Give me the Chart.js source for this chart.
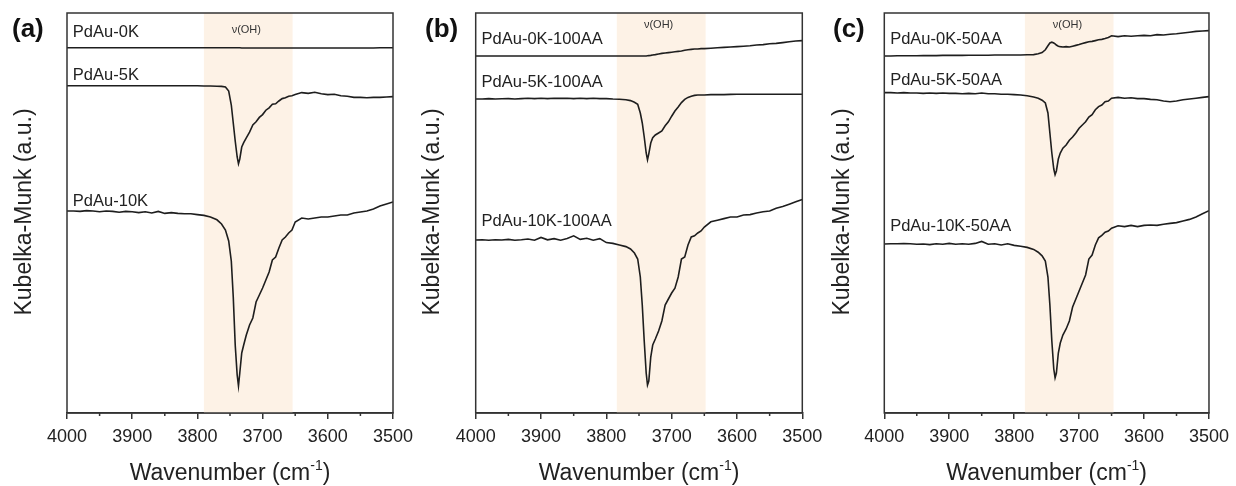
<!DOCTYPE html>
<html>
<head>
<meta charset="utf-8">
<script src="https://cdn.jsdelivr.net/npm/chart.js@4"></script>
<style>
  body { margin: 0; background: #fff; width: 1236px; height: 486px; position: relative; overflow: hidden; }
  canvas { position: absolute; top: 0; }
</style>
</head>
<body>
<canvas id="pa" width="430" height="486" style="left:0px"></canvas>
<canvas id="pb" width="430" height="486" style="left:405px"></canvas>
<canvas id="pc" width="421" height="486" style="left:815px"></canvas>
<script>
// wavenumber grid (cm-1), finer around the OH band
const WAVENUMBER = [
  4000,3990,3980,3970,3960,3950,3940,3930,3920,3910,3900,3890,3880,3870,3860,3850,3840,3830,3820,3810,3800,3790,3780,3770,
  3763,3757,3752,3748,3745,3742,3739,3737,3735,3732,3729,3725,3720,3715,3710,3705,3700,3695,3690,3685,3680,3675,3670,3665,3660,3655,3650,
  3640,3630,3620,3610,3600,3590,3580,3570,3560,3550,3540,3530,3520,3510,3500
];
const X_TICKS = [4000, 3900, 3800, 3700, 3600, 3500];
const MINOR_TICKS = [3950, 3850, 3750, 3650, 3550];

// (a) offset Kubelka-Munk spectra, arbitrary units
const A_0K = [
  91.3,91.3,91.3,91.3,91.3,91.3,91.3,91.3,91.3,91.3,91.3,91.3,91.3,91.3,91.3,91.3,91.3,91.3,91.3,91.3,91.3,91.3,91.3,91.3,
  91.3,91.3,91.3,91.3,91.3,91.3,91.3,91.3,91.3,91.25,91.25,91.25,91.25,91.25,91.25,91.25,91.25,91.25,91.25,91.25,91.25,91.25,91.25,91.25,91.25,91.25,91.25,
  91.25,91.25,91.25,91.25,91.25,91.25,91.25,91.25,91.25,91.25,91.25,91.25,91.3,91.3,91.3
];
const A_5K = [
  81.8,81.8,81.8,81.8,81.8,81.8,81.8,81.8,81.8,81.8,81.8,81.8,81.8,81.8,81.8,81.8,81.8,81.8,81.8,81.8,81.8,81.75,81.75,81.7,
  81.65,81.5,80.5,77,72.5,68,64,62.3,63.5,66.5,67.6,68.8,70.2,72.0,72.8,73.9,74.6,75.7,76.3,77.2,77.3,78.0,78.6,78.8,79.2,79.3,79.6,
  80.1,79.9,80.2,79.8,79.6,79.7,79.3,79.2,78.9,78.9,78.8,78.9,78.9,79.0,79.1
];
const A_10K = [
  50.5,50.5,50.4,50.6,50.5,50.3,50.5,50.4,50.2,50.4,50.3,50.1,50.3,50.0,50.4,49.9,50.1,49.9,49.8,49.8,49.6,49.4,49.0,48.3,
  47.25,45.75,43,38,29,17,9.5,6.75,10,15,17,19.5,22,23.75,27.75,29.5,31.25,33.25,35.25,38.25,39,41.25,43.25,44,45,45.75,47.75,
  48.75,48.5,48.75,49,49,49.25,49.5,49.5,50,50.25,50.5,51,51.75,52.25,52.75
];

// (b)
const B_0K = [
  89.25,89.25,89.25,89.25,89.25,89.25,89.25,89.25,89.25,89.25,89.25,89.25,89.25,89.25,89.25,89.25,89.25,89.25,89.25,89.25,89.25,89.25,89.25,89.25,
  89.25,89.25,89.25,89.25,89.25,89.25,89.25,89.3,89.35,89.4,89.5,89.6,89.75,89.9,90.0,90.1,90.2,90.3,90.4,90.5,90.7,90.8,90.9,91.0,91.0,91.1,91.1,
  91.2,91.3,91.4,91.5,91.6,91.7,91.8,92.0,92.1,92.3,92.4,92.6,92.8,93.0,93.1
];
const B_5K = [
  78.5,78.5,78.6,78.5,78.55,78.6,78.5,78.6,78.7,78.6,78.7,78.6,78.7,78.65,78.7,78.6,78.7,78.6,78.7,78.6,78.6,78.5,78.45,78.3,
  78.1,77.7,77.2,75,72.5,69,65,63.3,64.8,67.5,68.8,69.5,70,70.5,71.8,72.8,74.2,75.5,76.5,77.6,78.4,78.9,79.2,79.4,79.5,79.5,79.5,
  79.6,79.6,79.6,79.65,79.7,79.7,79.7,79.7,79.7,79.7,79.7,79.7,79.7,79.7,79.7
];
const B_10K = [
  43.25,43.3,43.2,43.3,43.25,43.4,43.2,43.3,43.5,43.2,43.9,43.3,43.6,43.2,43.6,44.3,43.4,43.7,43.2,43.6,42.6,42.4,42.0,41.6,
  41.0,40.0,38.5,34,27,18,10,7,8,14,17,18.5,20.5,23,27,28.5,30,31.2,34,38.5,39,42,44,44.3,45,45.5,46.5,
  47.8,48.2,48.6,49.0,49.0,49.5,49.6,50.0,50.3,50.5,51.2,51.6,52.2,52.8,53.4
];

// (c)
const C_0K = [
  89.25,89.25,89.3,89.3,89.3,89.3,89.35,89.35,89.35,89.4,89.4,89.4,89.4,89.45,89.45,89.45,89.45,89.5,89.5,89.5,89.5,89.5,89.55,89.6,
  89.8,90.1,90.8,91.8,92.5,92.7,92.5,92.3,92.0,91.7,91.6,91.5,91.6,91.5,91.7,91.9,92.1,92.4,92.6,92.8,92.9,93.1,93.3,93.4,93.6,93.9,94.3,
  94.1,94.3,94.2,94.3,94.4,94.3,94.6,94.5,94.7,94.8,95.0,95.2,95.4,95.5,95.6
];
const C_5K = [
  80.1,80.1,80.0,80.1,80.0,80.0,79.9,80.0,79.9,80.0,79.9,79.9,79.8,79.9,79.8,80.0,79.8,79.8,79.7,79.7,79.6,79.5,79.3,79.0,
  78.7,78.2,77.5,75,70,65,61,59.6,60.5,63.5,65,66.2,67,68.2,69,70,71.2,72,72.8,74,74.6,75.8,76.6,77,77.8,78,78.7,
  78.9,78.7,78.8,78.6,78.6,78.4,78.3,78.0,77.8,78.0,78.3,78.5,78.7,78.9,79.1
];
const C_10K = [
  42.25,42.3,42.3,42.35,42.3,42.2,42.25,42.1,42.3,42.2,42.4,42.2,42.3,42.2,42.4,42.9,42.2,42.3,42.0,42.3,41.9,41.7,41.4,40.9,
  40.2,39.3,38,34,27,18,11,8.8,10,15,17.5,19.5,21,23,26.5,28.5,30.5,32.5,34.5,38.5,39.5,42,43.8,44.4,45.2,45.5,46.2,
  46.8,46.6,46.9,46.6,46.9,47.0,46.9,47.2,47.4,47.6,48.0,48.4,49.0,49.8,50.6
];

// series names, label anchor (wavenumber, value)
const A_NAMES = ["PdAu-0K", "PdAu-5K", "PdAu-10K"];
const B_NAMES = ["PdAu-0K-100AA", "PdAu-5K-100AA", "PdAu-10K-100AA"];
const C_NAMES = ["PdAu-0K-50AA", "PdAu-5K-50AA", "PdAu-10K-50AA"];
const A_LABEL_Y = [95.25, 84.5, 52.8];
const B_LABEL_Y = [93.4, 82.6, 47.8];
const C_LABEL_Y = [93.4, 83.25, 46.75];
// shaded v(OH) band
const A_BAND = [3790, 3654];
const B_BAND = [3784, 3648];
const C_BAND = [3783.5, 3647];

const FONT = "'Liberation Sans', Arial, sans-serif";
Chart.defaults.font.family = FONT;
Chart.defaults.color = "#222";

function decor(p) {
  return {
    id: "decor",
    beforeDatasetsDraw(chart) {
      const { ctx, chartArea: a, scales: { x } } = chart;
      const l = x.getPixelForValue(p.band[0]), r = x.getPixelForValue(p.band[1]);
      ctx.save();
      ctx.fillStyle = "#fdf2e6";
      ctx.fillRect(l, a.top, r - l, a.bottom - a.top);
      ctx.restore();
    },
    afterDraw(chart) {
      const { ctx, chartArea: a, scales: { x, y } } = chart;
      ctx.save();
      // frame
      ctx.strokeStyle = "#333";
      ctx.lineWidth = 1.5;
      ctx.strokeRect(a.left, a.top, a.right - a.left, a.bottom - a.top);
      // minor ticks
      ctx.beginPath();
      MINOR_TICKS.forEach(v => {
        const px = x.getPixelForValue(v);
        ctx.moveTo(px, a.bottom);
        ctx.lineTo(px, a.bottom + 3);
      });
      ctx.stroke();

      // curve labels
      ctx.fillStyle = "#222";
      ctx.textAlign = "left";
      ctx.textBaseline = "middle";
      ctx.font = "16.5px " + FONT;
      p.names.forEach((n, i) => ctx.fillText(n, x.getPixelForValue(3991), y.getPixelForValue(p.labelY[i])));

      // band label
      ctx.font = "11px " + FONT;
      ctx.fillStyle = "#333";
      ctx.textAlign = "center";
      ctx.fillText("\u03bd(OH)", x.getPixelForValue(p.nuX), y.getPixelForValue(p.nuY));

      // panel letter
      ctx.fillStyle = "#111";
      ctx.textAlign = "left";
      ctx.font = "bold 26px " + FONT;
      ctx.fillText(p.letter, p.letterX, 30);

      // y title
      ctx.fillStyle = "#222";
      ctx.font = "23px " + FONT;
      ctx.save();
      ctx.translate(p.yTitleX, 212);
      ctx.rotate(-Math.PI / 2);
      ctx.textAlign = "center";
      ctx.fillText("Kubelka-Munk (a.u.)", 0, 0);
      ctx.restore();

      // x title with superscript
      const big = "23px " + FONT, small = "14px " + FONT;
      ctx.font = big;
      const w1 = ctx.measureText("Wavenumber (cm").width;
      const w3 = ctx.measureText(")").width;
      ctx.font = small;
      const w2 = ctx.measureText("-1").width;
      let cx = (a.left + a.right) / 2 - (w1 + w2 + w3) / 2;
      const ty = 474;
      ctx.textAlign = "left";
      ctx.font = big;
      ctx.fillText("Wavenumber (cm", cx, ty);
      cx += w1;
      ctx.font = small;
      ctx.fillText("-1", cx, ty - 8);
      cx += w2;
      ctx.font = big;
      ctx.fillText(")", cx, ty);
      ctx.restore();
    }
  };
}

function makePanel(id, series, p) {
  new Chart(document.getElementById(id), {
    type: "line",
    data: {
      datasets: series.map(vals => ({
        data: WAVENUMBER.map((w, i) => ({ x: w, y: vals[i] })),
        borderColor: "#1e1e1e",
        borderWidth: 1.6,
        pointRadius: 0,
        fill: false
      }))
    },
    options: {
      responsive: false,
      animation: false,
      layout: { padding: p.padding },
      plugins: { legend: { display: false }, tooltip: { enabled: false } },
      scales: {
        x: {
          type: "linear",
          min: 3500,
          max: 4000,
          reverse: true,
          afterFit: s => { s.height = 73; },
          afterBuildTicks: s => { s.ticks = X_TICKS.map(v => ({ value: v })); },
          ticks: {
            font: { size: 18 }, color: "#222", padding: 7, maxRotation: 0, autoSkip: false,
            callback: v => String(v)
          },
          grid: { drawOnChartArea: false, tickLength: 6, color: "#333", lineWidth: 1.5 },
          border: { color: "#333", width: 1.5 }
        },
        y: { min: 0, max: 100, display: false }
      }
    },
    plugins: [decor(p)]
  });
}

makePanel("pa", [A_0K, A_5K, A_10K], {
  names: A_NAMES, labelY: A_LABEL_Y, band: A_BAND, nuX: 3725, nuY: 95.75,
  letter: "(a)", letterX: 12, yTitleX: 25,
  padding: { left: 67, right: 37, top: 13, bottom: 0 }
});
makePanel("pb", [B_0K, B_5K, B_10K], {
  names: B_NAMES, labelY: B_LABEL_Y, band: B_BAND, nuX: 3720, nuY: 97,
  letter: "(b)", letterX: 20, yTitleX: 28,
  padding: { left: 70.7, right: 32.7, top: 13, bottom: 0 }
});
makePanel("pc", [C_0K, C_5K, C_10K], {
  names: C_NAMES, labelY: C_LABEL_Y, band: C_BAND, nuX: 3718, nuY: 97,
  letter: "(c)", letterX: 18, yTitleX: 28,
  padding: { left: 69.3, right: 25, top: 13, bottom: 0 }
});
</script>
</body>
</html>
